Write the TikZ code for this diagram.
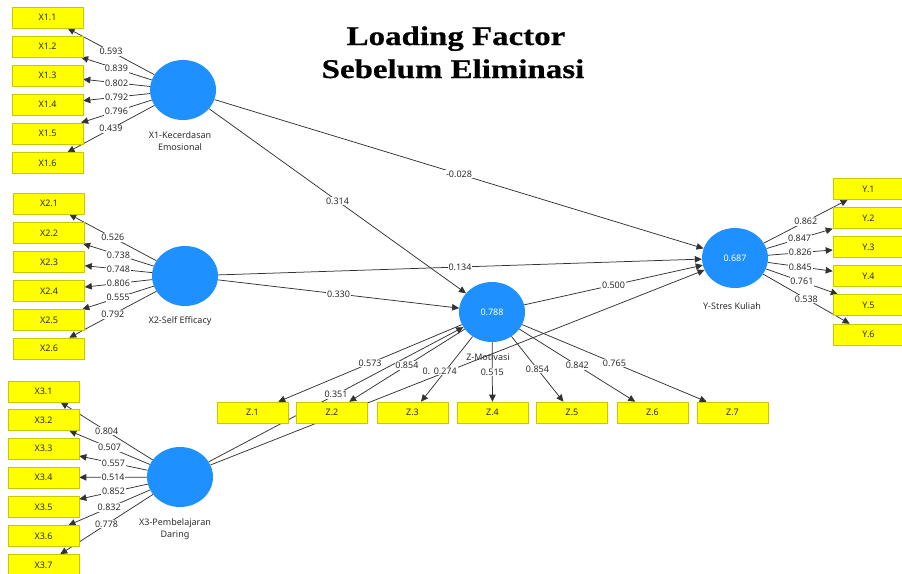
\documentclass[tikz,border=0pt]{standalone}
\usepackage{fontspec}
\setmainfont{Noto Sans}
\newfontfamily\titlefont[FakeStretch=1.22,FakeBold=0.6]{Liberation Serif}
\usetikzlibrary{arrows.meta,shapes.geometric}
\definecolor{lvblue}{RGB}{30,144,255}
\definecolor{indyellow}{RGB}{255,255,0}
\definecolor{indborder}{RGB}{200,200,0}
\definecolor{lncol}{RGB}{50,50,50}
\definecolor{txcol}{RGB}{45,45,45}
\pgfdeclarelayer{back}
\pgfdeclarelayer{edges}
\pgfsetlayers{back,edges,main}
\begin{document}
\begin{tikzpicture}[x=1pt,y=-1pt,
  indbox/.style={draw=indborder,fill=indyellow,minimum width=71pt,minimum height=21pt,inner sep=0pt,line width=0.6pt,font=\fontsize{9}{10}\selectfont,text=txcol},
  latent/.style={ellipse,fill=lvblue,minimum width=66pt,minimum height=60pt,inner sep=0pt,text=white,font=\fontsize{9}{10}\selectfont},
  lvname/.style={font=\fontsize{9}{12}\selectfont,text=txcol,align=center},
  edgeline/.style={draw=lncol,line width=0.75pt,-{Triangle[length=7pt,width=6.5pt]}},
  elab/.style={fill=white,inner sep=0.8pt,font=\fontsize{9}{10}\selectfont,text=txcol},
  ttl/.style={font=\titlefont\bfseries\fontsize{27}{33}\selectfont,anchor=base}]
\path[use as bounding box] (0,0) rectangle (902,573);

% title
\node[ttl] (t1) at (456,45) {Loading Factor};
\node[ttl] (t2) at (453,78) {Sebelum Eliminasi};

% latent variables
\node[latent] (X1) at (183,90) {};
\node[latent] (X2) at (185,276) {};
\node[latent] (X3) at (180,477) {};
\node[latent] (Z) at (492,312) {0.788};
\node[latent] (Y) at (735,258) {0.687};

\begin{pgfonlayer}{back}
\node[lvname] (nX1) at (180,141) {X1-Kecerdasan\\Emosional};
\node[lvname] (nX2) at (180,321) {X2-Self Efficacy};
\node[lvname] (nX3) at (175,529) {X3-Pembelajaran\\Daring};
\node[lvname] (nZ) at (488,357) {Z-Motivasi};
\node[lvname] (nY) at (732,306) {Y-Stres Kuliah};
\end{pgfonlayer}

% indicators
\foreach \i/\yy in {1/17.5,2/46.5,3/75.5,4/104.5,5/133.5,6/163}
  \node[indbox] (x1\i) at (47.5,\yy) {X1.\i};
\foreach \i/\yy in {1/203.5,2/233,3/262,4/291,5/320,6/348.5}
  \node[indbox] (x2\i) at (49,\yy) {X2.\i};
\foreach \i/\yy in {1/391.5,2/420,3/448.5,4/477.5,5/507,6/536,7/565}
  \node[indbox] (x3\i) at (43.5,\yy) {X3.\i};
\foreach \i/\xx in {1/252.5,2/332,3/412.5,4/492.5,5/572,6/652.5,7/732.5}
  \node[indbox] (z\i) at (\xx,412.5) {Z.\i};
\foreach \i/\yy in {1/189,2/218,3/247,4/276,5/305,6/334.5}
  \node[indbox] (y\i) at (868.5,\yy) {Y.\i};

\begin{pgfonlayer}{edges}
% structural paths
\draw[edgeline] (X1) -- node[elab]{-0.028} (Y);
\draw[edgeline] (X1) -- node[elab]{0.314} (Z);
\draw[edgeline] (X2) -- node[elab]{0.134} (Y);
\draw[edgeline] (X2) -- node[elab]{0.330} (Z);
\draw[edgeline] (X3) -- node[elab]{0.351} (Z);
\draw[edgeline] (X3) -- (Y);
\draw[edgeline] (Z) -- node[elab]{0.500} (Y);
% loadings
\foreach \i/\v in {1/0.593,2/0.839,3/0.802,4/0.792,5/0.796,6/0.439}
  \draw[edgeline] (X1) -- node[elab]{\v} (x1\i);
\foreach \i/\v in {1/0.526,2/0.738,3/0.748,4/0.806,5/0.555,6/0.792}
  \draw[edgeline] (X2) -- node[elab]{\v} (x2\i);
\foreach \i/\v in {1/0.804,2/0.507,3/0.557,4/0.514,5/0.852,6/0.832,7/0.778}
  \draw[edgeline] (X3) -- node[elab]{\v} (x3\i);
\foreach \i/\v/\p in {1/0.573/0.5,2/0.854/0.5,3/0.274/0.53,4/0.515/0.5,5/0.854/0.5,6/0.842/0.5,7/0.765/0.5}
  \draw[edgeline] (Z) -- node[elab,pos=\p] (lz\i) {\v} (z\i);
\foreach \i/\v in {1/0.862,2/0.847,3/0.826,4/0.845,5/0.761,6/0.538}
  \draw[edgeline] (Y) -- node[elab]{\v} (y\i);
% partly hidden label of X3 -> Y
\node[elab,anchor=base east,xshift=-1.5pt] (lxy) at (lz3.base west) {0.};
\end{pgfonlayer}
\end{tikzpicture}
\end{document}
